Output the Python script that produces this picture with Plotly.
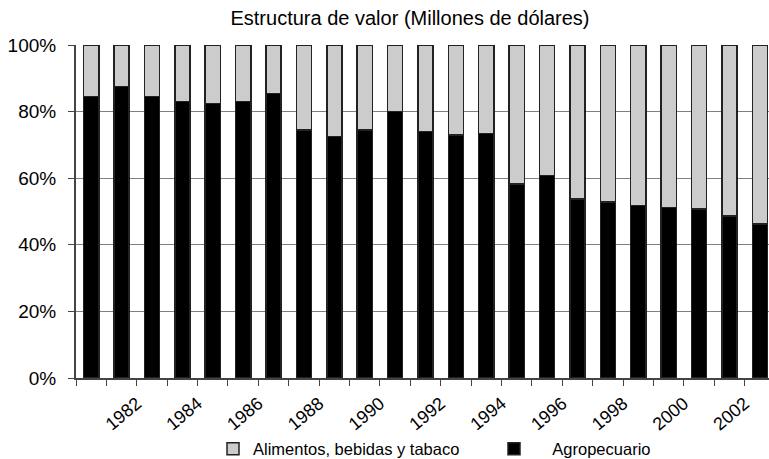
import plotly.graph_objects as go

years = list(range(1981, 2004))
agropecuario = [84.5, 87.5, 84.5, 83.0, 82.5, 83.0, 85.5, 74.5, 72.5, 74.5, 80.0, 74.0,
                73.0, 73.5, 58.3, 60.8, 53.8, 52.8, 51.8, 51.2, 50.7, 48.7, 46.3]
alimentos = [15.5, 12.5, 15.5, 17.0, 17.5, 17.0, 14.5, 25.5, 27.5, 25.5, 20.0, 26.0,
             27.0, 26.5, 41.7, 39.2, 46.2, 47.2, 48.2, 48.8, 49.3, 51.3, 53.7]
tick_years = [1982, 1984, 1986, 1988, 1990, 1992, 1994, 1996, 1998, 2000, 2002]
y_ticks = [0, 20, 40, 60, 80, 100]
y_labels = ["0%", "20%", "40%", "60%", "80%", "100%"]

font = "Liberation Sans, Arial, sans-serif"

# ticks at category boundaries; labels shown at the boundary after each labelled year
tickvals = [y + 0.5 for y in [years[0] - 1] + years]
ticktext = [str(int(v - 0.5)) if int(v - 0.5) in tick_years else "" for v in tickvals]

fig = go.Figure()
fig.add_trace(go.Bar(
    x=years, y=agropecuario, name="\u00a0\u00a0\u00a0\u00a0Agropecuario", width=0.5,
    marker=dict(color="#000000", line=dict(color="#222222", width=1.5)),
    legendrank=2,
))
fig.add_trace(go.Bar(
    x=years, y=alimentos, name="Alimentos, bebidas y tabaco", width=0.5,
    marker=dict(color="#cccccc", line=dict(color="#222222", width=1.5)),
    legendrank=1,
))

fig.update_layout(
    barmode="stack",
    width=769, height=459,
    margin=dict(l=76, r=0, t=45, b=81, autoexpand=False),
    paper_bgcolor="white", plot_bgcolor="white",
    font=dict(family=font, color="#000000", size=15),
    title=dict(text="Estructura de valor (Millones de dólares)", x=410 / 769, xanchor="center",
               xref="container", y=1 - 18 / 459, yanchor="middle", font=dict(size=20, family=font)),
    showlegend=True,
    legend=dict(orientation="h", x=213 / 769, xref="container", xanchor="left",
                y=10 / 459, yref="container", yanchor="middle", traceorder="normal",
                entrywidth=236, entrywidthmode="pixels",
                font=dict(size=16.5, family=font)),
)
fig.update_xaxes(
    range=[1980.5, 2003.3], automargin=False,
    tickmode="array", tickvals=tickvals, ticktext=ticktext,
    ticks="outside", ticklen=6, tickcolor="#444444",
    tickangle=-40, tickfont=dict(size=18, family=font),
    showgrid=False, showline=True, linecolor="#444444", linewidth=2,
    zeroline=False,
)
fig.update_yaxes(
    range=[0, 100], automargin=False,
    tickmode="array", tickvals=y_ticks, ticktext=y_labels,
    ticks="outside", ticklen=6, tickcolor="#444444",
    ticklabelstandoff=8,
    tickfont=dict(size=19, family=font),
    showgrid=True, gridcolor="#808080", gridwidth=1,
    showline=True, linecolor="#444444", linewidth=2,
    zeroline=False,
)

fig.write_html(
    "out.html",
    config={"displayModeBar": False},
    post_script="document.body.style.margin='0';document.body.style.overflow='hidden';",
)
